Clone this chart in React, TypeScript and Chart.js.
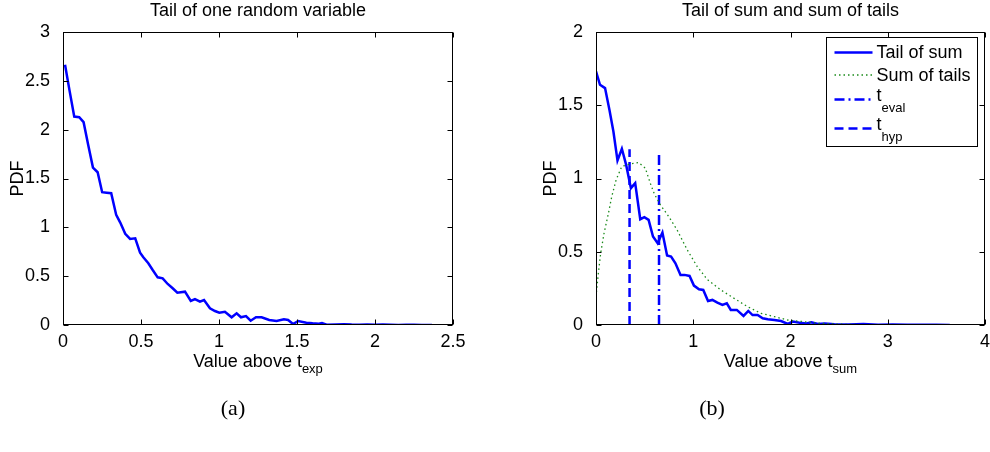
import { useEffect, useRef } from "react";
import { Chart, registerables } from "chart.js";

Chart.register(...registerables);

const FONT = '"Liberation Sans", Arial, Helvetica, sans-serif';
const SERIF = '"Liberation Serif", "Times New Roman", serif';
const BLUE = "#0000ff";
const GREEN = "#1a8a1a";
const FS = 18;

// ---------- Panel (a): tail of one random variable ----------
const expX = [0.013, 0.042, 0.072, 0.104, 0.132, 0.162, 0.192, 0.222, 0.251, 0.28, 0.309, 0.341, 0.367, 0.399, 0.43, 0.463, 0.494, 0.515, 0.547, 0.575, 0.607, 0.639, 0.671, 0.703, 0.733, 0.782, 0.819, 0.846, 0.878, 0.904, 0.942, 0.974, 1.002, 1.038, 1.081, 1.113, 1.141, 1.173, 1.203, 1.237, 1.273, 1.322, 1.369, 1.416, 1.443, 1.475, 1.507, 1.56, 1.6, 1.64, 1.66, 1.69, 1.75, 1.8, 1.85, 1.9, 1.95, 2.0, 2.05, 2.1, 2.15, 2.2, 2.25, 2.3, 2.365];
const expY = [2.664, 2.4, 2.134, 2.128, 2.077, 1.84, 1.612, 1.564, 1.36, 1.355, 1.349, 1.127, 1.049, 0.933, 0.881, 0.888, 0.741, 0.693, 0.632, 0.563, 0.488, 0.478, 0.42, 0.376, 0.331, 0.341, 0.246, 0.266, 0.239, 0.256, 0.171, 0.143, 0.126, 0.136, 0.079, 0.12, 0.079, 0.092, 0.044, 0.079, 0.079, 0.051, 0.041, 0.058, 0.051, 0.01, 0.041, 0.024, 0.017, 0.014, 0.02, 0.003, 0.006, 0.008, 0.004, 0.002, 0.005, 0.003, 0.004, 0.002, 0.001, 0.003, 0.002, 0.001, 0.0];

// ---------- Panel (b): tail of sum and sum of tails ----------
const sumX = [0, 0.041, 0.093, 0.138, 0.179, 0.221, 0.266, 0.31, 0.359, 0.403, 0.455, 0.497, 0.541, 0.586, 0.634, 0.683, 0.731, 0.772, 0.817, 0.869, 0.91, 0.962, 1.007, 1.059, 1.103, 1.152, 1.197, 1.248, 1.3, 1.345, 1.386, 1.448, 1.517, 1.566, 1.61, 1.662, 1.714, 1.766, 1.834, 1.903, 1.972, 2.024, 2.093, 2.162, 2.214, 2.283, 2.352, 2.45, 2.6, 2.75, 2.9, 3.05, 3.2, 3.35, 3.5, 3.638];
const sumY = [1.731, 1.64, 1.617, 1.469, 1.321, 1.123, 1.203, 1.093, 0.934, 0.968, 0.722, 0.736, 0.718, 0.604, 0.558, 0.631, 0.474, 0.467, 0.421, 0.342, 0.342, 0.335, 0.269, 0.244, 0.239, 0.164, 0.171, 0.153, 0.137, 0.148, 0.103, 0.103, 0.062, 0.096, 0.068, 0.068, 0.046, 0.039, 0.034, 0.027, 0.007, 0.023, 0.016, 0.011, 0.018, 0.007, 0.011, 0.005, 0.004, 0.006, 0.002, 0.003, 0.001, 0.002, 0.001, 0.0];

const tailsX = [0, 0.024, 0.048, 0.083, 0.128, 0.162, 0.207, 0.265, 0.35, 0.437, 0.507, 0.558, 0.6, 0.662, 0.748, 0.834, 0.938, 1.041, 1.145, 1.282, 1.42, 1.558, 1.696, 1.834, 1.972, 2.1, 2.25, 2.4, 2.55, 2.7, 2.9, 3.1, 3.3, 3.5, 3.638];
const tailsY = [0.193, 0.353, 0.49, 0.627, 0.763, 0.877, 0.991, 1.082, 1.1, 1.109, 1.071, 0.968, 0.895, 0.82, 0.74, 0.649, 0.513, 0.399, 0.31, 0.24, 0.182, 0.125, 0.08, 0.057, 0.034, 0.025, 0.015, 0.008, 0.005, 0.003, 0.002, 0.001, 0.001, 0.0, 0.0];

const tEvalX = 0.648;
const tEvalTop = 1.173;
const tHypX = 0.345;
const tHypTop = 1.2;

// ---------- Ticks ----------
const aXTicks = [0, 0.5, 1, 1.5, 2, 2.5];
const aYTicks = [0, 0.5, 1, 1.5, 2, 2.5, 3];
const bXTicks = [0, 1, 2, 3, 4];
const bYTicks = [0, 0.5, 1, 1.5, 2];

const pts = (xs: number[], ys: number[]) => xs.map((x, i) => ({ x, y: ys[i] }));

const DASH_DOT = [10, 4, 2, 4];
const DASHED = [9, 5];
const DOTTED = [1.5, 3];

const framePlugin = {
  id: "matlabFrame",
  afterDraw(chart: any, _args: any, o: any) {
    const { ctx, chartArea: a, scales } = chart;
    ctx.save();
    const L = Math.round(a.left) + 0.5;
    const R = Math.round(a.right) - 0.5;
    const T = Math.round(a.top) + 0.5;
    const B = Math.round(a.bottom) - 0.5;
    ctx.strokeStyle = "#000";
    ctx.lineWidth = 1;
    ctx.setLineDash([]);
    ctx.strokeRect(L, T, R - L, B - T);
    const tl = 5;
    ctx.beginPath();
    scales.x.ticks.forEach((t: any) => {
      const px = Math.round(scales.x.getPixelForValue(t.value)) + 0.5;
      ctx.moveTo(px, B);
      ctx.lineTo(px, B - tl);
      ctx.moveTo(px, T);
      ctx.lineTo(px, T + tl);
    });
    scales.y.ticks.forEach((t: any) => {
      const py = Math.round(scales.y.getPixelForValue(t.value)) + 0.5;
      ctx.moveTo(L, py);
      ctx.lineTo(L + tl, py);
      ctx.moveTo(R, py);
      ctx.lineTo(R - tl, py);
    });
    ctx.stroke();

    const cx = (a.left + a.right) / 2;
    ctx.fillStyle = "#000";
    // title
    ctx.font = `${FS}px ${FONT}`;
    ctx.textAlign = "center";
    ctx.textBaseline = "middle";
    ctx.fillText(o.title, cx, a.top - 21);
    // y title
    ctx.save();
    ctx.translate(a.left - 45, (a.top + a.bottom) / 2);
    ctx.rotate(-Math.PI / 2);
    ctx.fillText("PDF", 0, 0);
    ctx.restore();
    // x title with subscript
    ctx.textAlign = "left";
    ctx.textBaseline = "alphabetic";
    ctx.font = `${FS}px ${FONT}`;
    const mainW = ctx.measureText(o.xMain).width;
    ctx.font = `13px ${FONT}`;
    const subW = ctx.measureText(o.xSub).width;
    const x0 = cx - (mainW + subW) / 2;
    const base = a.bottom + 42;
    ctx.font = `${FS}px ${FONT}`;
    ctx.fillText(o.xMain, x0, base);
    ctx.font = `13px ${FONT}`;
    ctx.fillText(o.xSub, x0 + mainW, base + 6);
    // caption
    ctx.font = `22px ${SERIF}`;
    ctx.textAlign = "center";
    ctx.textBaseline = "middle";
    ctx.fillText(o.caption, o.captionX, 409);

    // legend
    if (o.legend) {
      const bw = 151;
      const bh = 109;
      const bx = Math.round(a.right - 8 - bw) + 0.5;
      const by = Math.round(a.top + 5) + 0.5;
      ctx.fillStyle = "#fff";
      ctx.fillRect(bx, by, bw, bh);
      ctx.strokeStyle = "#000";
      ctx.lineWidth = 1;
      ctx.setLineDash([]);
      ctx.strokeRect(bx, by, bw, bh);
      const rows = [15, 37.5, 62, 91];
      o.legend.forEach((e: any, i: number) => {
        const ly = by + rows[i];
        ctx.save();
        ctx.strokeStyle = e.color;
        ctx.lineWidth = e.width;
        ctx.setLineDash(e.dash || []);
        ctx.beginPath();
        ctx.moveTo(bx + 8, ly);
        ctx.lineTo(bx + 46, ly);
        ctx.stroke();
        ctx.restore();
        ctx.fillStyle = "#000";
        ctx.textAlign = "left";
        if (e.sub) {
          ctx.textBaseline = "alphabetic";
          ctx.font = `${FS}px ${FONT}`;
          ctx.fillText(e.label, bx + 50, ly + 1);
          const w = ctx.measureText(e.label).width;
          ctx.font = `13px ${FONT}`;
          ctx.fillText(e.sub, bx + 50 + w, ly + 12);
        } else {
          ctx.textBaseline = "middle";
          ctx.font = `${FS}px ${FONT}`;
          ctx.fillText(e.label, bx + 50, ly + 1);
        }
      });
    }
    ctx.restore();
  },
};

const fmt = (v: any) => String(Math.round(Number(v) * 1000) / 1000);

function axisX(min: number, max: number, ticks: number[]) {
  return {
    type: "linear",
    min,
    max,
    afterBuildTicks: (s: any) => {
      s.ticks = ticks.map((v) => ({ value: v }));
    },
    afterFit: (s: any) => {
      s.height = 127;
      s.paddingLeft = 0;
      s.paddingRight = 0;
    },
    ticks: { color: "#000", font: { family: FONT, size: FS }, padding: -2, maxRotation: 0, autoSkip: false, callback: fmt },
    grid: { display: false },
    border: { display: false },
  };
}

function axisY(min: number, max: number, ticks: number[], width: number) {
  return {
    type: "linear",
    min,
    max,
    afterBuildTicks: (s: any) => {
      s.ticks = ticks.map((v) => ({ value: v }));
    },
    afterFit: (s: any) => {
      s.width = width;
      s.paddingTop = 0;
      s.paddingBottom = 0;
    },
    ticks: { color: "#000", font: { family: FONT, size: FS }, padding: 5, autoSkip: false, callback: fmt },
    grid: { display: false },
    border: { display: false },
  };
}

function baseOptions(padRight: number, scales: any, frame: any) {
  return {
    animation: false,
    responsive: false,
    layout: { padding: { left: 0, right: padRight, top: 32, bottom: 0 } },
    elements: { point: { radius: 0 }, line: { tension: 0 } },
    plugins: { legend: { display: false }, tooltip: { enabled: false }, title: { display: false }, matlabFrame: frame },
    scales,
  };
}

export default function App() {
  const leftRef = useRef<HTMLCanvasElement>(null);
  const rightRef = useRef<HTMLCanvasElement>(null);

  useEffect(() => {
    const left = new Chart(leftRef.current as HTMLCanvasElement, {
      type: "line",
      data: {
        datasets: [
          { label: "Tail", data: pts(expX, expY), borderColor: BLUE, borderWidth: 2.5, fill: false },
        ],
      },
      options: baseOptions(
        42,
        { x: axisX(0, 2.5, aXTicks), y: axisY(0, 3, aYTicks, 63) },
        { title: "Tail of one random variable", xMain: "Value above t", xSub: "exp", caption: "(a)", captionX: 233 }
      ) as any,
      plugins: [framePlugin],
    } as any);

    const right = new Chart(rightRef.current as HTMLCanvasElement, {
      type: "line",
      data: {
        datasets: [
          { label: "Sum of tails", data: pts(tailsX, tailsY), borderColor: GREEN, borderWidth: 1.3, borderDash: DOTTED, fill: false },
          { label: "Tail of sum", data: pts(sumX, sumY), borderColor: BLUE, borderWidth: 2.5, fill: false },
          { label: "t_eval", data: [{ x: tEvalX, y: 0 }, { x: tEvalX, y: tEvalTop }], borderColor: BLUE, borderWidth: 2.5, borderDash: DASH_DOT, fill: false },
          { label: "t_hyp", data: [{ x: tHypX, y: 0 }, { x: tHypX, y: tHypTop }], borderColor: BLUE, borderWidth: 2.5, borderDash: DASHED, fill: false },
        ],
      },
      options: baseOptions(
        5,
        { x: axisX(0, 4, bXTicks), y: axisY(0, 2, bYTicks, 101) },
        {
          title: "Tail of sum and sum of tails",
          xMain: "Value above t",
          xSub: "sum",
          caption: "(b)",
          captionX: 217,
          legend: [
            { label: "Tail of sum", color: BLUE, width: 2.5 },
            { label: "Sum of tails", color: GREEN, width: 1.3, dash: DOTTED },
            { label: "t", sub: "eval", color: BLUE, width: 2.5, dash: DASH_DOT },
            { label: "t", sub: "hyp", color: BLUE, width: 2.5, dash: DASHED },
          ],
        }
      ) as any,
      plugins: [framePlugin],
    } as any);

    return () => {
      left.destroy();
      right.destroy();
    };
  }, []);

  return (
    <div style={{ position: "absolute", left: 0, top: 0, width: 990, height: 452, background: "#fff" }}>
      <canvas ref={leftRef} width={495} height={452} style={{ position: "absolute", left: 0, top: 0, width: 495, height: 452 }} />
      <canvas ref={rightRef} width={495} height={452} style={{ position: "absolute", left: 495, top: 0, width: 495, height: 452 }} />
    </div>
  );
}
